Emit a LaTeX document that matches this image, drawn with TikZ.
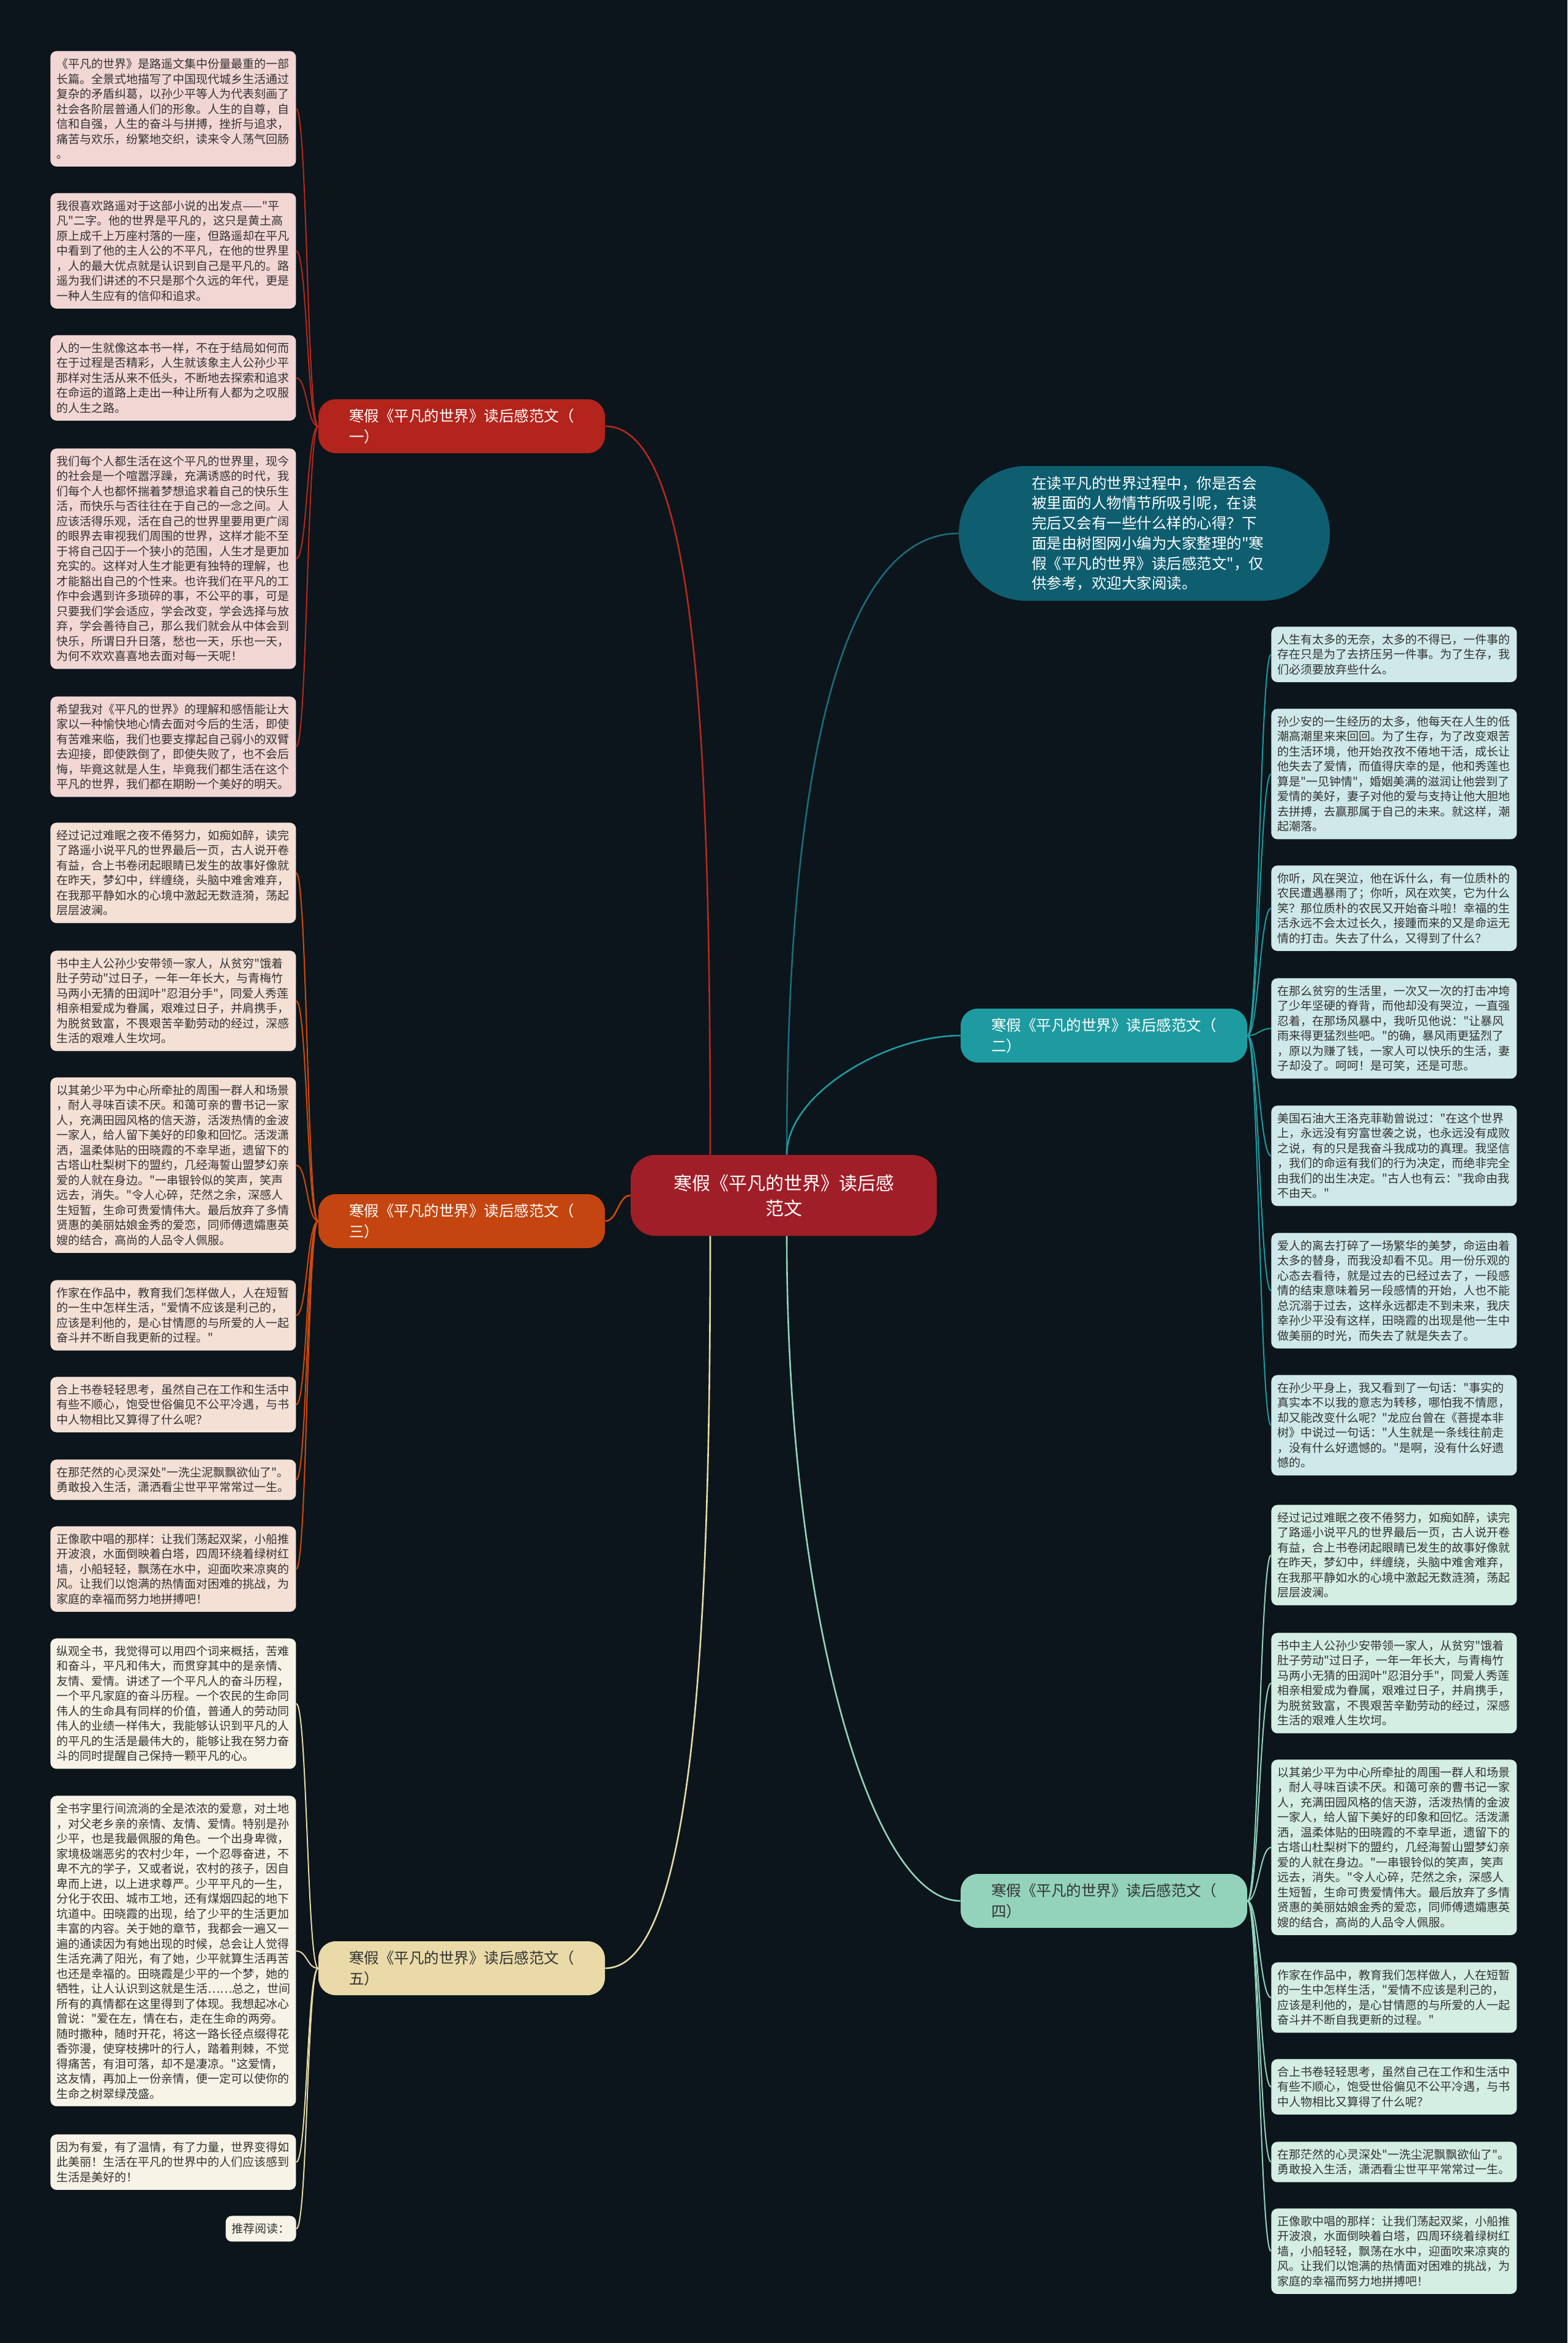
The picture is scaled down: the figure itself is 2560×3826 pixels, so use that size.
\documentclass[tikz,border=0pt]{standalone}
\usepackage{fontspec}
\setmainfont{Noto Sans CJK SC}[Ligatures=TeXOff]
\usetikzlibrary{calc}
\definecolor{bgc}{HTML}{0B151B}
\definecolor{fillA}{HTML}{F2D6D4}
\definecolor{lineA}{HTML}{B5281E}
\definecolor{brA}{HTML}{B3241C}
\definecolor{fillB}{HTML}{F5E0D6}
\definecolor{lineB}{HTML}{D04A0C}
\definecolor{brB}{HTML}{C4450F}
\definecolor{fillC}{HTML}{F7F3E7}
\definecolor{lineC}{HTML}{E8D9A6}
\definecolor{brC}{HTML}{E9DAA8}
\definecolor{fillD}{HTML}{CFE9EA}
\definecolor{lineD}{HTML}{1E9BA1}
\definecolor{brD}{HTML}{1E9BA1}
\definecolor{fillE}{HTML}{D4EEE4}
\definecolor{lineE}{HTML}{93D3BC}
\definecolor{brE}{HTML}{93D3BC}
\definecolor{centerc}{HTML}{A01E28}
\definecolor{bubc}{HTML}{0E5E70}
\definecolor{bubline}{HTML}{1B6C7C}
\definecolor{leaftxt}{HTML}{333333}
\newcommand{\leaffont}{\fontsize{9.5pt}{12.25pt}\selectfont}
\newcommand{\brfont}{\fontsize{12.25pt}{17pt}\selectfont}
\newcommand{\txtSa}{经过记过难眠之夜不倦努力，如痴如醉，读完\\了路遥小说平凡的世界最后一页，古人说开卷\\有益，合上书卷闭起眼睛已发生的故事好像就\\在昨天，梦幻中，绊缠绕，头脑中难舍难弃，\\在我那平静如水的心境中激起无数涟漪，荡起\\层层波澜。}
\newcommand{\txtSb}{书中主人公孙少安带领一家人，从贫穷"饿着\\肚子劳动"过日子，一年一年长大，与青梅竹\\马两小无猜的田润叶"忍泪分手"，同爱人秀莲\\相亲相爱成为眷属，艰难过日子，并肩携手，\\为脱贫致富，不畏艰苦辛勤劳动的经过，深感\\生活的艰难人生坎坷。}
\newcommand{\txtSc}{以其弟少平为中心所牵扯的周围一群人和场景\\，耐人寻味百读不厌。和蔼可亲的曹书记一家\\人，充满田园风格的信天游，活泼热情的金波\\一家人，给人留下美好的印象和回忆。活泼潇\\洒，温柔体贴的田晓霞的不幸早逝，遗留下的\\古塔山杜梨树下的盟约，几经海誓山盟梦幻亲\\爱的人就在身边。"一串银铃似的笑声，笑声\\远去，消失。"令人心碎，茫然之余，深感人\\生短暂，生命可贵爱情伟大。最后放弃了多情\\贤惠的美丽姑娘金秀的爱恋，同师傅遗孀惠英\\嫂的结合，高尚的人品令人佩服。}
\newcommand{\txtSd}{作家在作品中，教育我们怎样做人，人在短暂\\的一生中怎样生活，"爱情不应该是利己的，\\应该是利他的，是心甘情愿的与所爱的人一起\\奋斗并不断自我更新的过程。"}
\newcommand{\txtSe}{合上书卷轻轻思考，虽然自己在工作和生活中\\有些不顺心，饱受世俗偏见不公平冷遇，与书\\中人物相比又算得了什么呢？}
\newcommand{\txtSf}{在那茫然的心灵深处"一洗尘泥飘飘欲仙了"。\\勇敢投入生活，潇洒看尘世平平常常过一生。}
\newcommand{\txtSg}{正像歌中唱的那样：让我们荡起双桨，小船推\\开波浪，水面倒映着白塔，四周环绕着绿树红\\墙，小船轻轻，飘荡在水中，迎面吹来凉爽的\\风。让我们以饱满的热情面对困难的挑战，为\\家庭的幸福而努力地拼搏吧！}
\tikzset{
  leaf/.style={rounded corners=5pt, inner xsep=5pt, inner ysep=3pt, text width=190.5pt,
    align=left, anchor=north west, font=\leaffont, text=leaftxt},
  lfA/.style={leaf, fill=fillA},
  lfB/.style={leaf, fill=fillB},
  lfC/.style={leaf, fill=fillC},
  lfD/.style={leaf, fill=fillD},
  lfE/.style={leaf, fill=fillE},
  branch/.style={rounded corners=14pt, inner xsep=25pt, inner ysep=4pt, text width=184pt,
    minimum height=44pt, align=left, font=\brfont},
  conn/.style={line width=1pt},
  cconn/.style={line width=1.3pt}
}
\begin{document}
\begin{tikzpicture}[x=0.5pt,y=-0.5pt]
\fill[bgc] (0,0) rectangle (2560,3826);
\useasboundingbox (0,0) rectangle (2560,3826);

% center and bubble
\node[fill=centerc, text=white, rounded corners=20pt, minimum width=250pt, minimum height=66pt,
  align=center, font=\fontsize{15pt}{20.5pt}\selectfont] (c) at (1280,1952)
  {寒假《平凡的世界》读后感\\范文};
\node[fill=bubc, text=white, rounded corners=55pt, minimum width=303pt, minimum height=110pt,
  text width=184pt, inner xsep=59.5pt, align=left, font=\fontsize{12.25pt}{16.35pt}\selectfont] (bub) at (1869,871)
  {在读平凡的世界过程中，你是否会\\被里面的人物情节所吸引呢，在读\\完后又会有一些什么样的心得？下\\面是由树图网小编为大家整理的"寒\\假《平凡的世界》读后感范文"，仅\\供参考，欢迎大家阅读。};

% branch nodes
\node[branch, fill=brA, text=white] (b1) at (754,696) {寒假《平凡的世界》读后感范文（\\一）};
\node[branch, fill=brB, text=white] (b3) at (754,1994) {寒假《平凡的世界》读后感范文（\\三）};
\node[branch, fill=brC, text=leaftxt] (b5) at (754,3214) {寒假《平凡的世界》读后感范文（\\五）};
\node[branch, fill=brD, text=white] (b2) at (1803,1691) {寒假《平凡的世界》读后感范文（\\二）};
\node[branch, fill=brE, text=leaftxt] (b4) at (1803,3104) {寒假《平凡的世界》读后感范文（\\四）};

% left branch one
\node[lfA, minimum height=94.25pt] (a1) at (82,83) {《平凡的世界》是路遥文集中份量最重的一部\\长篇。全景式地描写了中国现代城乡生活通过\\复杂的矛盾纠葛，以孙少平等人为代表刻画了\\社会各阶层普通人们的形象。人生的自尊，自\\信和自强，人生的奋斗与拼搏，挫折与追求，\\痛苦与欢乐，纷繁地交织，读来令人荡气回肠\\。};
\node[lfA, minimum height=94.25pt] (a2) at (82,315) {我很喜欢路遥对于这部小说的出发点——"平\\凡"二字。他的世界是平凡的，这只是黄土高\\原上成千上万座村落的一座，但路遥却在平凡\\中看到了他的主人公的不平凡，在他的世界里\\，人的最大优点就是认识到自己是平凡的。路\\遥为我们讲述的不只是那个久远的年代，更是\\一种人生应有的信仰和追求。};
\node[lfA, minimum height=69.75pt] (a3) at (82,547) {人的一生就像这本书一样，不在于结局如何而\\在于过程是否精彩，人生就该象主人公孙少平\\那样对生活从来不低头，不断地去探索和追求\\在命运的道路上走出一种让所有人都为之叹服\\的人生之路。};
\node[lfA, minimum height=180pt] (a4) at (82,732) {我们每个人都生活在这个平凡的世界里，现今\\的社会是一个喧嚣浮躁，充满诱惑的时代，我\\们每个人也都怀揣着梦想追求着自己的快乐生\\活，而快乐与否往往在于自己的一念之间。人\\应该活得乐观，活在自己的世界里要用更广阔\\的眼界去审视我们周围的世界，这样才能不至\\于将自己囚于一个狭小的范围，人生才是更加\\充实的。这样对人生才能更有独特的理解，也\\才能豁出自己的个性来。也许我们在平凡的工\\作中会遇到许多琐碎的事，不公平的事，可是\\只要我们学会适应，学会改变，学会选择与放\\弃，学会善待自己，那么我们就会从中体会到\\快乐，所谓日升日落，愁也一天，乐也一天，\\为何不欢欢喜喜地去面对每一天呢！};
\node[lfA, minimum height=82pt] (a5) at (82,1137) {希望我对《平凡的世界》的理解和感悟能让大\\家以一种愉快地心情去面对今后的生活，即使\\有苦难来临，我们也要支撑起自己弱小的双臂\\去迎接，即使跌倒了，即使失败了，也不会后\\悔，毕竟这就是人生，毕竟我们都生活在这个\\平凡的世界，我们都在期盼一个美好的明天。};

% left branch three
\node[lfB, minimum height=82pt] (s1) at (82,1343) {\txtSa};
\node[lfB, minimum height=82pt] (s2) at (82,1552) {\txtSb};
\node[lfB, minimum height=143.25pt] (s3) at (82,1759) {\txtSc};
\node[lfB, minimum height=57.5pt] (s4) at (82,2090) {\txtSd};
\node[lfB, minimum height=45.25pt] (s5) at (82,2248) {\txtSe};
\node[lfB, minimum height=33pt] (s6) at (82,2383) {\txtSf};
\node[lfB, minimum height=69.75pt] (s7) at (82,2492) {\txtSg};

% left branch five
\node[lfC, minimum height=106.5pt] (f1) at (82,2675) {纵观全书，我觉得可以用四个词来概括，苦难\\和奋斗，平凡和伟大，而贯穿其中的是亲情、\\友情、爱情。讲述了一个平凡人的奋斗历程，\\一个平凡家庭的奋斗历程。一个农民的生命同\\伟人的生命具有同样的价值，普通人的劳动同\\伟人的业绩一样伟大，我能够认识到平凡的人\\的平凡的生活是最伟大的，能够让我在努力奋\\斗的同时提醒自己保持一颗平凡的心。};
\node[lfC, minimum height=253.5pt] (f2) at (82,2932) {全书字里行间流淌的全是浓浓的爱意，对土地\\，对父老乡亲的亲情、友情、爱情。特别是孙\\少平，也是我最佩服的角色。一个出身卑微，\\家境极端恶劣的农村少年，一个忍辱奋进，不\\卑不亢的学子，又或者说，农村的孩子，因自\\卑而上进，以上进求尊严。少平平凡的一生，\\分化于农田、城市工地，还有煤烟四起的地下\\坑道中。田晓霞的出现，给了少平的生活更加\\丰富的内容。关于她的章节，我都会一遍又一\\遍的通读因为有她出现的时候，总会让人觉得\\生活充满了阳光，有了她，少平就算生活再苦\\也还是幸福的。田晓霞是少平的一个梦，她的\\牺牲，让人认识到这就是生活……总之，世间\\所有的真情都在这里得到了体现。我想起冰心\\曾说："爱在左，情在右，走在生命的两旁。\\随时撒种，随时开花，将这一路长径点缀得花\\香弥漫，使穿枝拂叶的行人，踏着荆棘，不觉\\得痛苦，有泪可落，却不是凄凉。"这爱情，\\这友情，再加上一份亲情，便一定可以使你的\\生命之树翠绿茂盛。};
\node[lfC, minimum height=45.25pt] (f3) at (82,3485) {因为有爱，有了温情，有了力量，世界变得如\\此美丽！生活在平凡的世界中的人们应该感到\\生活是美好的！};
\node[rounded corners=5pt, fill=fillC, text=leaftxt, font=\leaffont, inner xsep=5pt, minimum height=21pt,
  anchor=north east] (f4) at (484,3618) {推荐阅读：};

% right branch two
\node[lfD, minimum height=45.25pt] (t1) at (2076,1023) {人生有太多的无奈，太多的不得已，一件事的\\存在只是为了去挤压另一件事。为了生存，我\\们必须要放弃些什么。};
\node[lfD, minimum height=106.5pt] (t2) at (2076,1157) {孙少安的一生经历的太多，他每天在人生的低\\潮高潮里来来回回。为了生存，为了改变艰苦\\的生活环境，他开始孜孜不倦地干活，成长让\\他失去了爱情，而值得庆幸的是，他和秀莲也\\算是"一见钟情"，婚姻美满的滋润让他尝到了\\爱情的美好，妻子对他的爱与支持让他大胆地\\去拼搏，去赢那属于自己的未来。就这样，潮\\起潮落。};
\node[lfD, minimum height=69.75pt] (t3) at (2076,1413) {你听，风在哭泣，他在诉什么，有一位质朴的\\农民遭遇暴雨了；你听，风在欢笑，它为什么\\笑？那位质朴的农民又开始奋斗啦！幸福的生\\活永远不会太过长久，接踵而来的又是命运无\\情的打击。失去了什么，又得到了什么？};
\node[lfD, minimum height=82pt] (t4) at (2076,1597) {在那么贫穷的生活里，一次又一次的打击冲垮\\了少年坚硬的脊背，而他却没有哭泣，一直强\\忍着，在那场风暴中，我听见他说："让暴风\\雨来得更猛烈些吧。"的确，暴风雨更猛烈了\\，原以为赚了钱，一家人可以快乐的生活，妻\\子却没了。呵呵！是可笑，还是可悲。};
\node[lfD, minimum height=82pt] (t5) at (2076,1805) {美国石油大王洛克菲勒曾说过："在这个世界\\上，永远没有穷富世袭之说，也永远没有成败\\之说，有的只是我奋斗我成功的真理。我坚信\\，我们的命运有我们的行为决定，而绝非完全\\由我们的出生决定。"古人也有云："我命由我\\不由天。"};
\node[lfD, minimum height=94.25pt] (t6) at (2076,2013) {爱人的离去打碎了一场繁华的美梦，命运由着\\太多的替身，而我没却看不见。用一份乐观的\\心态去看待，就是过去的已经过去了，一段感\\情的结束意味着另一段感情的开始，人也不能\\总沉溺于过去，这样永远都走不到未来，我庆\\幸孙少平没有这样，田晓霞的出现是他一生中\\做美丽的时光，而失去了就是失去了。};
\node[lfD, minimum height=82pt] (t7) at (2076,2245) {在孙少平身上，我又看到了一句话："事实的\\真实本不以我的意志为转移，哪怕我不情愿，\\却又能改变什么呢？"龙应台曾在《菩提本非\\树》中说过一句话："人生就是一条线往前走\\，没有什么好遗憾的。"是啊，没有什么好遗\\憾的。};

% right branch four
\node[lfE, minimum height=82pt] (m1) at (2076,2457) {\txtSa};
\node[lfE, minimum height=82pt] (m2) at (2076,2666) {\txtSb};
\node[lfE, minimum height=143.25pt] (m3) at (2076,2873) {\txtSc};
\node[lfE, minimum height=57.5pt] (m4) at (2076,3204) {\txtSd};
\node[lfE, minimum height=45.25pt] (m5) at (2076,3362) {\txtSe};
\node[lfE, minimum height=33pt] (m6) at (2076,3497) {\txtSf};
\node[lfE, minimum height=69.75pt] (m7) at (2076,3606) {\txtSg};

% leaf connectors
\foreach \l in {a1,a2,a3,a4,a5}
  \draw[conn, lineA] (b1.west) .. controls +(-18,0) and +(18,0) .. (\l.east);
\foreach \l in {s1,s2,s3,s4,s5,s6,s7}
  \draw[conn, lineB] (b3.west) .. controls +(-18,0) and +(18,0) .. (\l.east);
\foreach \l in {f1,f2,f3,f4}
  \draw[conn, lineC] (b5.west) .. controls +(-18,0) and +(18,0) .. (\l.east);
\foreach \l in {t1,t2,t3,t4,t5,t6,t7}
  \draw[conn, lineD] (b2.east) .. controls +(18,0) and +(-18,0) .. (\l.west);
\foreach \l in {m1,m2,m3,m4,m5,m6,m7}
  \draw[conn, lineE] (b4.east) .. controls +(18,0) and +(-18,0) .. (\l.west);

% center connectors
\draw[cconn, lineA] (b1.east) .. controls +(150,0) and +(0,-670) .. ($(c.north)+(-120,0)$);
\draw[cconn, lineB] (b3.east) .. controls +(20,0) and +(-20,0) .. (c.west);
\draw[cconn, lineC] (b5.east) .. controls +(150,0) and +(0,600) .. ($(c.south)+(-120,0)$);
\draw[cconn, bubline] (bub.west) .. controls +(-200,0) and +(0,-600) .. ($(c.north)+(5,0)$);
\draw[cconn, lineD] (b2.west) .. controls +(-120,0) and +(0,-100) .. ($(c.north)+(5,0)$);
\draw[cconn, lineE] (b4.west) .. controls +(-150,0) and +(0,600) .. ($(c.south)+(5,0)$);
\end{tikzpicture}
\end{document}
